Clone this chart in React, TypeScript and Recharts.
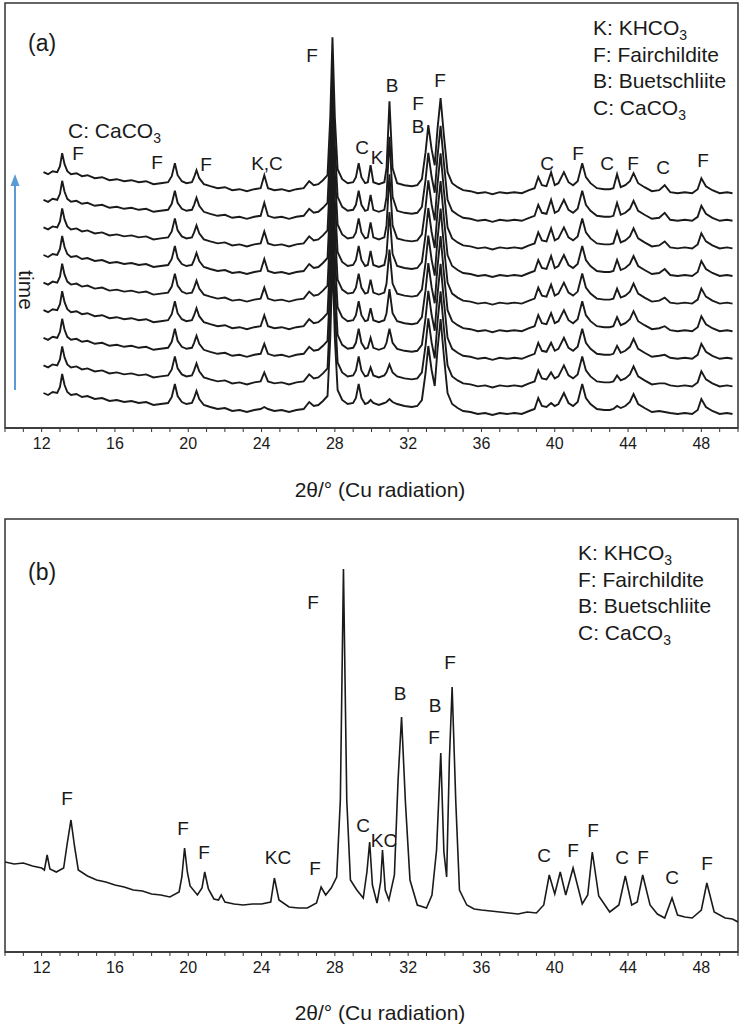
import { LineChart, Line, XAxis, YAxis, ReferenceArea } from 'recharts';

// Two stacked XRD panels: (a) time series of 9 patterns, (b) final pattern.
// Intensities are in arbitrary units.

const FONT = 'Arial, "Liberation Sans", Helvetica, sans-serif';
const INK = '#1a1a1a';

const AXIS_TICKS = [
  10, 11, 12, 13, 14, 15, 16, 17, 18, 19, 20, 21, 22, 23, 24, 25, 26, 27, 28, 29, 30,
  31, 32, 33, 34, 35, 36, 37, 38, 39, 40, 41, 42, 43, 44, 45, 46, 47, 48, 49, 50,
];
const TICK_LABELS = [12, 16, 20, 24, 28, 32, 36, 40, 44, 48];
const Y_TICKS_A = [65, 93, 120, 148, 176, 205, 233, 261];

// panel (a): shared pattern of the bottom (earliest) scan, [2θ, intensity]
const BASE_A: [number, number][] = [
  [12.1, 35], [12.35, 33], [12.6, 36], [12.85, 35], [13.0, 41], [13.12, 54], [13.25, 43],
  [13.4, 36], [13.6, 33], [13.9, 34], [14.2, 31], [14.5, 32], [14.9, 29], [15.3, 30],
  [15.7, 27], [16.1, 28], [16.5, 26], [16.9, 27], [17.3, 25], [17.7, 26], [18.1, 23],
  [18.5, 24], [18.9, 25], [19.1, 31], [19.27, 44], [19.42, 32], [19.65, 26], [19.9, 24],
  [20.2, 25], [20.32, 30], [20.45, 37], [20.6, 29], [20.85, 23], [21.2, 21], [21.6, 19],
  [22.0, 20], [22.4, 17], [22.8, 18], [23.2, 16], [23.6, 18], [23.95, 19], [24.15, 20],
  [24.35, 19], [24.7, 17], [25.1, 18], [25.5, 16], [25.9, 18], [26.3, 19], [26.6, 26],
  [26.85, 22], [27.1, 23], [27.35, 27], [27.6, 32], [27.75, 90], [27.87, 170], [28.0, 90],
  [28.15, 38], [28.4, 28], [28.7, 24], [29.0, 25], [29.15, 30], [29.3, 44], [29.45, 30],
  [29.65, 24], [29.8, 25], [29.95, 25], [30.1, 25], [30.4, 23], [30.7, 25], [30.82, 26],
  [30.98, 26], [31.15, 26], [31.4, 24], [31.8, 22], [32.2, 21], [32.5, 22], [32.75, 28],
  [32.95, 55], [33.1, 82], [33.28, 58], [33.45, 42], [33.6, 78], [33.77, 109], [33.95, 72],
  [34.15, 35], [34.4, 24], [34.7, 20], [35.0, 17], [35.4, 16], [35.8, 14], [36.2, 15],
  [36.6, 13], [37.0, 15], [37.4, 14], [37.8, 15], [38.2, 14], [38.6, 17], [38.9, 19],
  [39.1, 30], [39.3, 22], [39.55, 21], [39.8, 22], [40.0, 22], [40.2, 24], [40.5, 35],
  [40.75, 25], [41.0, 22], [41.25, 26], [41.5, 44], [41.7, 30], [41.95, 24], [42.3, 19],
  [42.7, 18], [43.0, 18], [43.2, 19], [43.4, 20], [43.6, 20], [43.85, 22], [44.1, 26],
  [44.3, 34], [44.55, 24], [44.9, 20], [45.3, 16], [45.7, 17], [46.0, 16], [46.3, 15],
  [46.7, 14], [47.1, 15], [47.5, 14], [47.8, 18], [48.0, 29], [48.25, 21], [48.6, 17],
  [49.0, 14], [49.4, 15], [49.7, 14],
];

// growing reflections, extra height per scan (bottom -> top)
const KC_24 = [1, 8, 9, 10, 10, 11, 11, 12, 12];
const K_30 = [3, 8, 10, 12, 13, 14, 15, 15, 17];
const B_31 = [3, 10, 18, 30, 42, 52, 62, 72, 80];
const B_31_FLANK = [0, 2, 4, 6, 8, 10, 11, 12, 13];
const C_39 = [3, 6, 8, 10, 11, 12, 12, 13, 13];
const C_43 = [2, 5, 7, 8, 9, 10, 11, 12, 13];
const C_46 = [0, 1, 2, 3, 4, 5, 5, 6, 6];

const SCAN_OFFSET = 27.6;
const SCANS = [0, 1, 2, 3, 4, 5, 6, 7, 8];

// panel (b): final pattern, [2θ, intensity]
const PATTERN_B: [number, number][] = [
  [10.0, 90], [10.5, 88], [11.0, 89], [11.5, 86], [12.0, 84], [12.15, 82], [12.3, 97],
  [12.45, 83], [12.8, 80], [13.2, 84], [13.4, 109], [13.6, 132], [13.8, 105], [14.0, 82],
  [14.5, 76], [15.0, 72], [15.5, 70], [16.0, 67], [16.5, 65], [17.0, 62], [17.5, 61],
  [18.0, 58], [18.5, 57], [19.0, 55], [19.5, 60], [19.65, 75], [19.8, 104], [19.95, 80],
  [20.1, 66], [20.5, 57], [20.75, 64], [20.9, 80], [21.1, 63], [21.4, 53], [21.65, 52],
  [21.8, 57], [22.0, 50], [22.5, 48], [23.0, 47], [23.5, 48], [24.0, 48], [24.5, 50],
  [24.7, 74], [24.95, 52], [25.5, 45], [26.0, 44], [26.5, 44], [27.0, 49], [27.25, 65],
  [27.5, 57], [27.8, 64], [28.1, 75], [28.3, 152], [28.47, 383], [28.65, 152], [28.85, 72],
  [29.2, 62], [29.55, 54], [29.75, 80], [29.9, 110], [30.05, 67], [30.3, 49], [30.5, 70],
  [30.6, 102], [30.75, 62], [30.95, 52], [31.25, 77], [31.45, 172], [31.64, 235],
  [31.85, 150], [32.1, 72], [32.5, 47], [33.0, 44], [33.3, 57], [33.55, 102], [33.78, 199],
  [33.95, 100], [34.1, 75], [34.25, 192], [34.4, 265], [34.6, 150], [34.8, 62], [35.2, 47],
  [35.6, 43], [36.0, 42], [36.5, 41], [37.0, 40], [37.5, 39], [38.0, 38], [38.5, 40],
  [39.0, 39], [39.4, 47], [39.7, 77], [40.0, 58], [40.3, 80], [40.6, 57], [41.0, 84],
  [41.5, 48], [41.8, 57], [42.05, 100], [42.4, 56], [43.0, 40], [43.5, 47], [43.85, 76],
  [44.2, 47], [44.5, 50], [44.8, 77], [45.2, 47], [45.6, 38], [46.0, 34], [46.4, 54],
  [46.7, 37], [47.1, 35], [47.5, 34], [48.0, 42], [48.3, 69], [48.7, 40], [49.3, 34],
  [49.7, 33], [50.0, 30],
];

const LEGEND_ROWS = [
  ['K: KHCO', '3'],
  ['F: Fairchildite', ''],
  ['B: Buetschliite', ''],
  ['C: CaCO', '3'],
];

// peak letters, pixel positions on the page
const PEAK_LABELS_A: [number, number, string][] = [
  [78, 153, 'F'], [157, 162, 'F'], [206, 164, 'F'], [267, 163, 'K,C'], [312, 55, 'F'],
  [362, 147, 'C'], [377, 157, 'K'], [392, 85, 'B'], [418, 103, 'F'], [418, 126, 'B'],
  [440, 80, 'F'], [547, 163, 'C'], [578, 153, 'F'], [607, 163, 'C'], [633, 163, 'F'],
  [663, 167, 'C'], [703, 160, 'F'],
];
const PEAK_LABELS_B: [number, number, string][] = [
  [67, 798, 'F'], [183, 828, 'F'], [204, 852, 'F'], [278, 857, 'KC'], [315, 868, 'F'],
  [313, 602, 'F'], [363, 825, 'C'], [384, 840, 'KC'], [400, 693, 'B'], [435, 705, 'B'],
  [434, 737, 'F'], [450, 662, 'F'], [544, 855, 'C'], [573, 850, 'F'], [593, 830, 'F'],
  [622, 857, 'C'], [643, 857, 'F'], [672, 877, 'C'], [707, 863, 'F'],
];

const EXTRA = new Map<number, number[]>([
  [24.15, KC_24], [29.95, K_30], [30.82, B_31_FLANK], [30.98, B_31], [31.15, B_31_FLANK],
  [39.8, C_39], [43.4, C_43], [46.0, C_46],
]);

const dataA = BASE_A.map(([t, v]) => {
  const row: Record<string, number> = { t };
  const extra = EXTRA.get(t);
  SCANS.forEach((i) => {
    row[`s${i}`] = v + (extra ? extra[i] : 0) + i * SCAN_OFFSET;
  });
  return row;
});

const dataB = PATTERN_B.map(([t, v]) => ({ t, v }));

function AxisTick({ x, y, payload }: any) {
  if (!TICK_LABELS.includes(payload.value)) return <g />;
  return (
    <text x={x} y={y + 15} textAnchor='middle' fontSize={16} fill={INK} fontFamily={FONT}>
      {payload.value}
    </text>
  );
}

function Panel({
  data,
  keys,
  yMax,
  yTicks,
  top,
  width,
}: {
  data: any[];
  keys: string[];
  yMax: number;
  yTicks?: number[];
  top: number;
  width: number;
}) {
  return (
    <div style={{ position: 'absolute', left: 0, top }}>
      <LineChart
        width={741}
        height={3 + yMax + 40}
        data={data}
        margin={{ top: 3, right: 3, bottom: 0, left: 5 }}
      >
        <XAxis
          dataKey='t'
          type='number'
          domain={[10, 50]}
          ticks={AXIS_TICKS}
          interval={0}
          tickSize={4}
          tickMargin={2}
          height={40}
          axisLine={{ stroke: '#333', strokeWidth: 1.5 }}
          tickLine={{ stroke: '#333' }}
          tick={<AxisTick />}
          allowDataOverflow
        />
        {yTicks ? (
          <YAxis
            type='number'
            domain={[0, yMax]}
            ticks={yTicks}
            interval={0}
            width={0}
            mirror
            tickSize={4}
            axisLine={false}
            tickLine={{ stroke: '#333' }}
            tick={<g />}
            allowDataOverflow
          />
        ) : (
          <YAxis hide type='number' domain={[0, yMax]} allowDataOverflow />
        )}
        {keys.map((k) => (
          <Line
            key={k}
            dataKey={k}
            type='linear'
            stroke={INK}
            strokeWidth={width}
            dot={false}
            isAnimationActive={false}
          />
        ))}
        <ReferenceArea x1={10} x2={50} y1={0} y2={yMax} fill='none' stroke='#333' strokeWidth={1.5} />
      </LineChart>
    </div>
  );
}

function Legend({ x, y }: { x: number; y: number }) {
  return (
    <g>
      {LEGEND_ROWS.map(([main, sub], i) => (
        <text key={main} x={x} y={y + i * 26.5} fontSize={21} fill={INK} fontFamily={FONT}>
          {main}
          {sub && (
            <tspan fontSize={14} dy={5}>
              {sub}
            </tspan>
          )}
        </text>
      ))}
    </g>
  );
}

function Letters({ items }: { items: [number, number, string][] }) {
  return (
    <g>
      {items.map(([x, y, s], i) => (
        <text key={i} x={x} y={y + 7} textAnchor='middle' fontSize={19} fill={INK} fontFamily={FONT}>
          {s}
        </text>
      ))}
    </g>
  );
}

export default function App() {
  return (
    <div style={{ position: 'absolute', left: 0, top: 0, width: 741, height: 1030, background: '#fff' }}>
      <Panel data={dataA} keys={SCANS.map((i) => `s${i}`)} yMax={425} yTicks={Y_TICKS_A} top={0} width={1.9} />
      <Panel data={dataB} keys={['v']} yMax={433} top={516} width={1.6} />
      <svg width={741} height={1030} style={{ position: 'absolute', left: 0, top: 0, pointerEvents: 'none' }}>
        <text x={28} y={51} fontSize={23} fill={INK} fontFamily={FONT}>(a)</text>
        <text x={28} y={580} fontSize={23} fill={INK} fontFamily={FONT}>(b)</text>
        <Legend x={593} y={35} />
        <Legend x={578} y={560} />
        <text x={68} y={138} fontSize={21} fill={INK} fontFamily={FONT}>
          C: CaCO<tspan fontSize={14} dy={5}>3</tspan>
        </text>
        <Letters items={PEAK_LABELS_A} />
        <Letters items={PEAK_LABELS_B} />
        <line x1={15} y1={390} x2={15} y2={184} stroke='#5b9bd5' strokeWidth={2} />
        <polygon points='15,174 10.5,186 19.5,186' fill='#5b9bd5' />
        <text
          x={0}
          y={0}
          transform='translate(19 290) rotate(90)'
          textAnchor='middle'
          fontSize={21}
          fill={INK}
          fontFamily={FONT}
        >
          time
        </text>
        <text x={380} y={497} textAnchor='middle' fontSize={21} fill={INK} fontFamily={FONT}>
          2θ/° (Cu radiation)
        </text>
        <text x={380} y={1020} textAnchor='middle' fontSize={21} fill={INK} fontFamily={FONT}>
          2θ/° (Cu radiation)
        </text>
      </svg>
    </div>
  );
}
